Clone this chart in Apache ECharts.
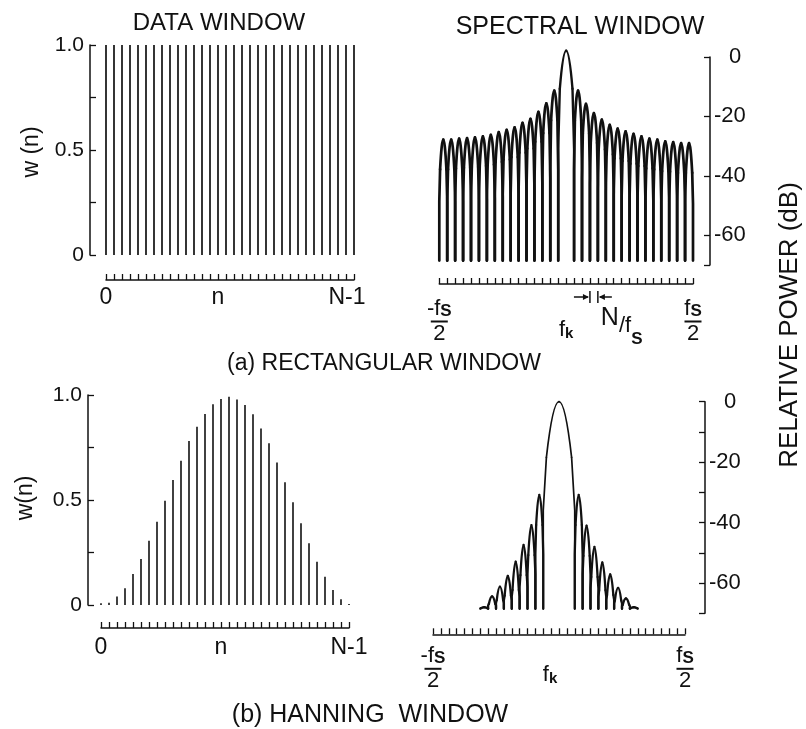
<!DOCTYPE html>
<html>
<head>
<meta charset="utf-8">
<script src="https://cdn.jsdelivr.net/npm/echarts@6/dist/echarts.min.js"></script>
<style>
  html, body { margin: 0; padding: 0; background: #fff; }
  #chart { width: 806px; height: 729px; }
</style>
</head>
<body>
<div id="chart"></div>
<script>
// Sample index n = 0 .. N-1 (N = 32)
const sampleIndex = [0, 1, 2, 3, 4, 5, 6, 7, 8, 9, 10, 11, 12, 13, 14, 15,
                     16, 17, 18, 19, 20, 21, 22, 23, 24, 25, 26, 27, 28, 29, 30, 31];

// Data windows w(n)
const rectWindow = [1, 1, 1, 1, 1, 1, 1, 1, 1, 1, 1, 1, 1, 1, 1, 1,
                    1, 1, 1, 1, 1, 1, 1, 1, 1, 1, 1, 1, 1, 1, 1, 1];
const hannWindow = [0.008, 0.011, 0.04, 0.08, 0.148, 0.219, 0.306, 0.397,
                    0.497, 0.595, 0.687, 0.781, 0.849, 0.910, 0.956, 0.981,
                    0.992, 0.979, 0.952, 0.908, 0.841, 0.770, 0.679, 0.584,
                    0.489, 0.389, 0.294, 0.206, 0.135, 0.071, 0.027, 0.005];

// Spectral windows: each lobe lies between two consecutive nulls
// (frequency in bins from f_k) and reaches the listed peak level (dB).
const rectNulls = [-16, -15, -14, -13, -12, -11, -10, -9, -8, -7, -6, -5, -4, -3, -2, -1,
                   1, 2, 3, 4, 5, 6, 7, 8, 9, 10, 11, 12, 13, 14, 15, 16];
const rectPeaksDb = [-27.8, -27.8, -27.5, -27.3, -27.0, -26.7, -26.2, -25.3,
                     -24.5, -23.7, -22.2, -20.8, -18.5, -15.6, -11.3,
                     2.1,
                     -11.3, -15.8, -18.9, -21.1, -22.8, -24.1, -25.0, -25.9,
                     -26.7, -27.5, -27.8, -28.4, -28.6, -29.0, -29.0];
const hannNulls = [-10, -9, -8, -7, -6, -5, -4, -3, -2, 2, 3, 4, 5, 6, 7, 8, 9, 10];
const hannPeaksDb = [-68.0, -64.4, -61.2, -57.6, -52.9, -47.4, -40.8, -30.8,
                     0,
                     -30.8, -41.0, -48.0, -53.2, -57.1, -61.6, -65.1, -68.0];
const spectralFloorDb = -68.5;

// Axis ticks and labels
const wTicks = [0, 0.25, 0.5, 0.75, 1];
const wLabels = [0, 0.5, 1];
const rectDbTicks = [0, -20, -40, -60, -70];
const hannDbTicks = [0, -10, -20, -30, -40, -50, -60, -70];
const dbLabels = [0, -20, -40, -60];

const INK = '#111';
const FONT = '"Liberation Sans", Arial, sans-serif';

const rectStems = sampleIndex.map((n, i) => [n, rectWindow[i]]);
const hannStems = sampleIndex.map((n, i) => [n, hannWindow[i]]);
const rectLobes = rectPeaksDb.map((p, i) => [rectNulls[i], rectNulls[i + 1], p]);
const hannLobes = hannPeaksDb.map((p, i) => [hannNulls[i], hannNulls[i + 1], p]);

// Draws every lobe as an arch: steep sides down to the floor, rounded top.
function lobeRenderer(sideWidth, mainWidth) {
  return function (params, api) {
    const xl = api.value(0), xr = api.value(1), pk = api.value(2);
    const w = xr - xl;
    const depth = pk - spectralFloorDb;
    const k = Math.min(10 + 2.8 * (w - 1), depth * 0.6);
    const pL = api.coord([xl, spectralFloorDb]);
    const pR = api.coord([xr, spectralFloorDb]);
    const pa = api.coord([xl + 0.1 * w, pk - k]);
    const pb = api.coord([xr - 0.1 * w, pk - k]);
    const pt = api.coord([(xl + xr) / 2, pk]);
    const yV = pa[1] + 0.35 * (pL[1] - pa[1]);
    const st = () => ({ stroke: INK, fill: 'none', lineWidth: w > 1.5 ? mainWidth : sideWidth, lineCap: 'round', lineJoin: 'round' });
    return {
      type: 'group',
      children: [
        { type: 'polyline', shape: { points: [pL, [pL[0], yV], pa] }, style: st() },
        { type: 'bezierCurve', shape: { x1: pa[0], y1: pa[1], cpx1: (pa[0] + pt[0]) / 2, cpy1: pt[1], x2: pt[0], y2: pt[1] }, style: st() },
        { type: 'bezierCurve', shape: { x1: pt[0], y1: pt[1], cpx1: (pt[0] + pb[0]) / 2, cpy1: pt[1], x2: pb[0], y2: pb[1] }, style: st() },
        { type: 'polyline', shape: { points: [pb, [pR[0], yV], pR] }, style: st() }
      ]
    };
  };
}

const axisLine = { show: true, onZero: false, lineStyle: { color: INK, width: 1.5 } };
const tickStyle = { color: INK, width: 1.3 };

function nAxis(gridIndex, offset, nAt, margin, lastPad) {
  return {
    type: 'value', gridIndex, min: 0, max: 31, interval: 1, offset,
    axisLine,
    axisTick: { show: true, inside: true, length: 6, lineStyle: tickStyle },
    splitLine: { show: false },
    axisLabel: {
      show: true, margin, customValues: [0, nAt, 31],
      color: INK, fontFamily: FONT, fontSize: 23,
      formatter: v => v === 0 ? '{t|0}' : (v === 31 ? '{e|N-1}' : '{t|n}'),
      rich: {
        t: { fontFamily: FONT, fontSize: 23, color: INK },
        e: { fontFamily: FONT, fontSize: 23, color: INK, padding: [0, lastPad, 0, 0] }
      }
    }
  };
}

function fAxis(gridIndex, offset, margin, fkDrop, fkPadRight) {
  return {
    type: 'value', gridIndex, min: -16, max: 16, interval: 1, offset,
    axisLine,
    axisTick: { show: true, inside: true, length: 6, lineStyle: tickStyle },
    splitLine: { show: false },
    axisLabel: {
      show: true, margin, customValues: [-16, 0, 16],
      formatter: v => v === -16 ? '{n|-f}{s|S}\n{bar|}\n{d|2}'
                    : v === 16 ? '{n|f}{s|S}\n{bar|}\n{d|2}'
                    : '{fk|f}{k|k}',
      rich: {
        n: { fontFamily: FONT, fontSize: 22, color: INK, lineHeight: 22, verticalAlign: 'bottom' },
        s: { fontFamily: FONT, fontSize: 17, color: INK, lineHeight: 22, verticalAlign: 'bottom', fontWeight: 'bold' },
        bar: { width: 17, height: 2, lineHeight: 3, backgroundColor: INK },
        d: { fontFamily: FONT, fontSize: 22, color: INK, lineHeight: 22 },
        fk: { fontFamily: FONT, fontSize: 22, color: INK, lineHeight: fkDrop, verticalAlign: 'bottom' },
        k: { fontFamily: FONT, fontSize: 15, color: INK, lineHeight: fkDrop + 3, fontWeight: 'bold', padding: [0, fkPadRight, 0, 0], verticalAlign: 'bottom' }
      }
    }
  };
}

function wAxis(gridIndex, offset) {
  return {
    type: 'value', gridIndex, min: 0, max: 1, position: 'left', offset,
    axisLine,
    axisTick: { show: true, inside: true, length: 6, customValues: wTicks, lineStyle: tickStyle },
    splitLine: { show: false },
    axisLabel: {
      show: true, margin: 6, customValues: wLabels,
      color: INK, fontFamily: FONT, fontSize: 21,
      formatter: v => v === 0 ? '0' : v.toFixed(1)
    }
  };
}

function dbAxis(gridIndex, offset, ticks) {
  return {
    type: 'value', gridIndex, min: -70, max: 0, position: 'right', offset,
    axisLine,
    axisTick: { show: true, inside: true, length: 6, customValues: ticks, lineStyle: tickStyle },
    splitLine: { show: false },
    axisLabel: {
      show: true, margin: 4, customValues: dbLabels,
      formatter: v => v === 0 ? '{z|0}' : '{t|' + v + '}',
      rich: {
        z: { fontFamily: FONT, fontSize: 22, color: INK, padding: [0, 0, 0, 15] },
        t: { fontFamily: FONT, fontSize: 22, color: INK }
      }
    }
  };
}

const chart = echarts.init(document.getElementById('chart'), null, { renderer: 'canvas' });

chart.setOption({
  backgroundColor: '#fff',
  animation: false,
  grid: [
    { left: 106, top: 45, width: 248, height: 210 },
    { left: 439.3, top: 57, width: 253.7, height: 208 },
    { left: 101, top: 395, width: 248, height: 210 },
    { left: 433, top: 401.7, width: 252, height: 211.6 }
  ],
  xAxis: [
    nAxis(0, 25, 14, 6, 14),
    fAxis(1, 19, 14, 40, 0),
    nAxis(2, 23, 15, 8, 0),
    fAxis(3, 21, 11, 38, 18)
  ],
  yAxis: [
    wAxis(0, 16),
    dbAxis(1, 17, rectDbTicks),
    wAxis(2, 13),
    dbAxis(3, 20, hannDbTicks)
  ],
  series: [
    { type: 'bar', xAxisIndex: 0, yAxisIndex: 0, data: rectStems, barWidth: 1.7, itemStyle: { color: INK } },
    { type: 'custom', xAxisIndex: 1, yAxisIndex: 1, data: rectLobes, encode: { x: [0, 1], y: 2 },
      renderItem: lobeRenderer(2.7, 2.4) },
    { type: 'bar', xAxisIndex: 2, yAxisIndex: 2, data: hannStems, barWidth: 1.6, itemStyle: { color: INK } },
    { type: 'custom', xAxisIndex: 3, yAxisIndex: 3, data: hannLobes, encode: { x: [0, 1], y: 2 },
      renderItem: lobeRenderer(2.3, 1.7) }
  ]
});

// Titles, captions and the bin-width marker
const x3 = chart.convertToPixel({ xAxisIndex: 1 }, 3);
const x4 = chart.convertToPixel({ xAxisIndex: 1 }, 4);
const ay = 297;

function text(str, x, y, size, rot) {
  return {
    type: 'text', x, y, rotation: rot || 0,
    style: { text: str, font: size + 'px ' + FONT, fill: INK, textAlign: 'center', textVerticalAlign: 'middle' }
  };
}

chart.setOption({
  graphic: [
    text('DATA WINDOW', 219, 23, 24),
    text('SPECTRAL WINDOW', 580, 27, 25),
    text('(a) RECTANGULAR WINDOW', 384, 364, 23),
    text('(b) HANNING  WINDOW', 370, 715, 25),
    text('RELATIVE POWER (dB)', 790, 325, 26, Math.PI / 2),
    text('w (n)', 32, 152, 23, Math.PI / 2),
    text('w(n)', 26, 498, 23, Math.PI / 2),
    { type: 'line', shape: { x1: x3 - 16, y1: ay, x2: x3 - 2, y2: ay }, style: { stroke: INK, lineWidth: 1.5 } },
    { type: 'polygon', shape: { points: [[x3 - 1, ay], [x3 - 7, ay - 3], [x3 - 7, ay + 3]] }, style: { fill: INK } },
    { type: 'line', shape: { x1: x3, y1: ay - 6, x2: x3, y2: ay + 6 }, style: { stroke: INK, lineWidth: 1.5 } },
    { type: 'line', shape: { x1: x4, y1: ay - 6, x2: x4, y2: ay + 6 }, style: { stroke: INK, lineWidth: 1.5 } },
    { type: 'polygon', shape: { points: [[x4 + 1, ay], [x4 + 7, ay - 3], [x4 + 7, ay + 3]] }, style: { fill: INK } },
    { type: 'line', shape: { x1: x4 + 2, y1: ay, x2: x4 + 14, y2: ay }, style: { stroke: INK, lineWidth: 1.5 } },
    {
      type: 'text', x: x4 + 3, y: 306,
      style: {
        text: '{a|N}{b|/f}{c|S}', fill: INK, textAlign: 'left', textVerticalAlign: 'top',
        rich: {
          a: { fontFamily: FONT, fontSize: 25, lineHeight: 44, verticalAlign: 'top', fill: INK },
          b: { fontFamily: FONT, fontSize: 22, lineHeight: 44, verticalAlign: 'top', padding: [9, 0, 0, 0], fill: INK },
          c: { fontFamily: FONT, fontSize: 17, lineHeight: 44, verticalAlign: 'top', padding: [25, 0, 0, 0], fontWeight: 'bold', fill: INK }
        }
      }
    }
  ]
});
</script>
</body>
</html>
